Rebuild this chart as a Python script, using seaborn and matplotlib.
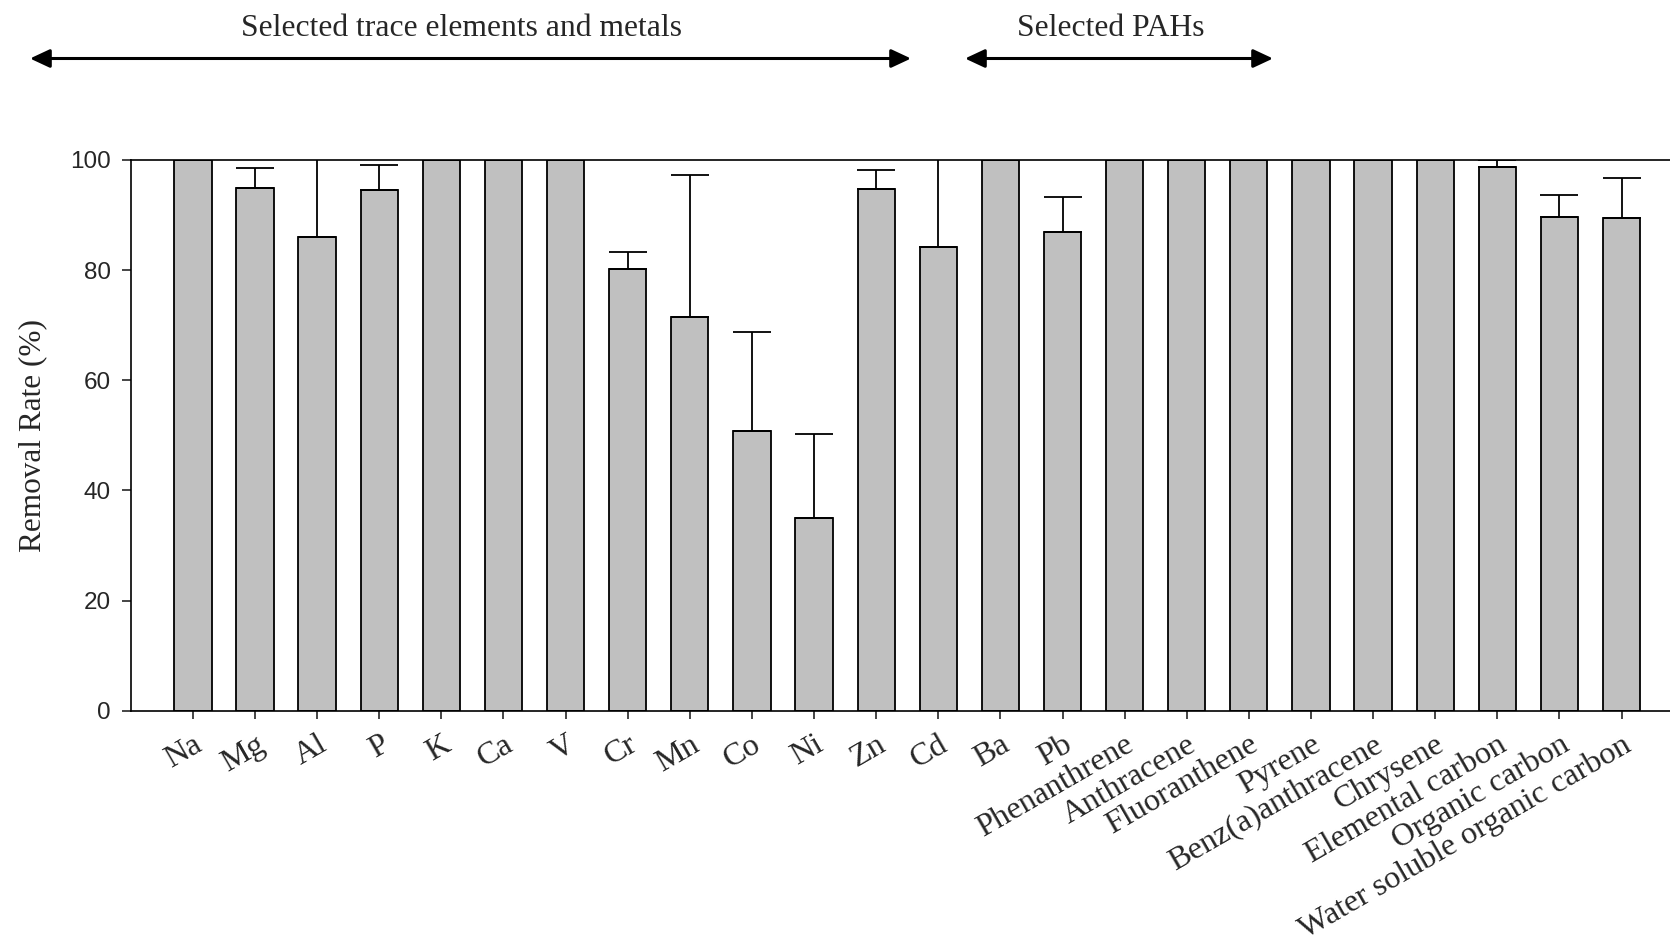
import matplotlib
matplotlib.use("Agg")
import matplotlib.pyplot as plt
from matplotlib.patches import FancyArrowPatch
import seaborn as sns
import numpy as np
import pandas as pd

categories = ["Na", "Mg", "Al", "P", "K", "Ca", "V", "Cr", "Mn", "Co", "Ni", "Zn",
              "Cd", "Ba", "Pb", "Phenanthrene", "Anthracene", "Fluoranthene",
              "Pyrene", "Benz(a)anthracene", "Chrysene", "Elemental carbon",
              "Organic carbon", "Water soluble organic carbon"]
removal = [100, 95.0, 86.1, 94.5, 100, 100, 100, 80.2, 71.5, 50.7, 35.0, 94.7,
           84.2, 100, 86.9, 100, 100, 100, 100, 100, 100, 98.8, 89.7, 89.5]
err_up = [0, 3.5, 16.0, 4.5, 0, 0, 0, 3.0, 25.8, 18.1, 15.3, 3.4,
          17.0, 0, 6.4, 0, 0, 0, 0, 0, 0, 1.2, 4.0, 7.3]
group_labels = ["Selected trace elements and metals", "Selected PAHs"]
y_ticks = [0, 20, 40, 60, 80, 100]
y_label = "Removal Rate (%)"

sns.set_style("white")
plt.rcParams["font.family"] = ["Liberation Serif", "DejaVu Serif"]

df = pd.DataFrame({"item": categories, "rate": removal})

fig = plt.figure(figsize=(16.7, 9.46), dpi=100)
ax = fig.add_axes([0.0783, 0.2487, 1.0 - 0.0783, 0.8309 - 0.2487])

sns.barplot(data=df, x="item", y="rate", order=categories, color="#C0C0C0",
            saturation=1, edgecolor="black", linewidth=1.3, width=0.6,
            errorbar=None, ax=ax)

xpos = np.arange(len(categories))
ax.errorbar(xpos, removal, yerr=[np.zeros(len(err_up)), err_up], fmt="none",
            ecolor="black", elinewidth=1.3, capsize=14, capthick=1.3, zorder=1)

ax.set_xlim(-1, 23.78)
ax.set_ylim(0, 100)
ax.set_yticks(y_ticks)
ax.set_yticklabels([str(t) for t in y_ticks], fontfamily="Liberation Sans", fontsize=17.5)
ax.set_xticks(xpos)
ax.set_xticklabels(categories, rotation=30, ha="right", va="top",
                   rotation_mode="anchor", fontsize=23.2)
ax.tick_params(axis="y", direction="out", length=6.5, width=1.2, pad=8, left=True)
ax.tick_params(axis="x", direction="out", length=6, width=1.2, pad=8, bottom=True)
ax.set_xlabel("")
ax.set_ylabel(y_label, fontsize=22.5, labelpad=16)

for side in ["left", "bottom", "top"]:
    ax.spines[side].set_visible(True)
    ax.spines[side].set_color("black")
    ax.spines[side].set_linewidth(1.2)
ax.spines["right"].set_visible(False)

# group arrows and titles (figure coordinates)
W, H = 1670.0, 946.0
arrow_y = 1 - 58.5 / H
style = "<|-|>,head_length=12,head_width=5.6"
for (x0, x1) in [(30, 911), (965, 1273)]:
    arr = FancyArrowPatch((x0 / W, arrow_y), (x1 / W, arrow_y),
                          transform=fig.transFigure, arrowstyle=style,
                          mutation_scale=1, color="black", linewidth=2.2,
                          shrinkA=0, shrinkB=0)
    fig.add_artist(arr)

fig.text(462 / W, 1 - 28 / H, group_labels[0], ha="center", va="center", fontsize=22.8)
fig.text(1111 / W, 1 - 28 / H, group_labels[1], ha="center", va="center", fontsize=22.8)

fig.savefig("out.png", dpi=100)
